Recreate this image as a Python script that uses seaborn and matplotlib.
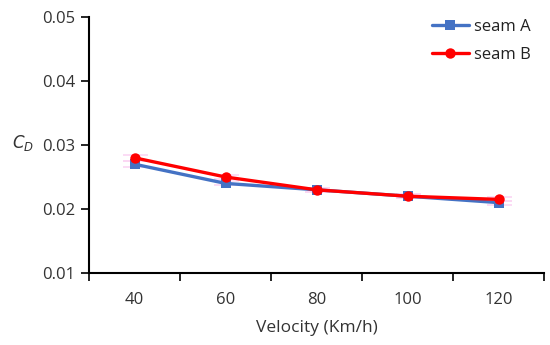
import numpy as np
import pandas as pd
import matplotlib
matplotlib.use("Agg")
import matplotlib.pyplot as plt
import seaborn as sns

# ------------------------------------------------------------
# DATA
# ------------------------------------------------------------
velocity = [40, 60, 80, 100, 120]
seam_a = [0.027, 0.024, 0.023, 0.022, 0.021]
seam_b = [0.028, 0.025, 0.023, 0.022, 0.0215]
err_a = [0.0005, 0.0003, 0.0003, 0.0003, 0.0003]
err_b = [0.0005, 0.0003, 0.0003, 0.0003, 0.0003]

df = pd.DataFrame({
    'pos': list(range(len(velocity))) * 2,
    'Velocity': velocity * 2,
    'CD': seam_a + seam_b,
    'err': err_a + err_b,
    'series': ['seam A'] * len(velocity) + ['seam B'] * len(velocity),
})

sns.set_style('white')
plt.rcParams['font.family'] = ['Open Sans', 'DejaVu Sans']

fig = plt.figure(figsize=(5.5, 3.45), dpi=100)
ax = fig.add_axes([89 / 550, 1 - 273 / 345, (544 - 89) / 550, (273 - 17) / 345])

colors = {'seam A': '#4472C4', 'seam B': '#FF0000'}
mfc = {'seam A': '#0070C0', 'seam B': '#FF0000'}
markers = {'seam A': 's', 'seam B': 'o'}

# faint error bars behind the lines
for name, sub in df.groupby('series'):
    ax.errorbar(sub['pos'], sub['CD'], yerr=sub['err'], fmt='none',
                ecolor='#fbd6f3', elinewidth=1.2, capsize=9, capthick=1.2, zorder=1)

sns.lineplot(data=df, x='pos', y='CD', hue='series', style='series',
             palette=colors, markers=markers, dashes=False,
             linewidth=2.4, markersize=7.5, markeredgewidth=0, ax=ax, zorder=3)
for line, name in zip(ax.lines, ['seam A', 'seam B']):
    line.set_markerfacecolor(mfc[name])
ax.lines[1].set_alpha(0.85)

ax.set_xlim(-0.5, len(velocity) - 0.5)
ax.set_ylim(0.01, 0.05)
ax.set_yticks([0.01, 0.02, 0.03, 0.04, 0.05])
ax.set_yticklabels([f'{v:.2f}' for v in [0.01, 0.02, 0.03, 0.04, 0.05]])

# category axis: ticks between categories, labels at centres
ax.set_xticks(np.arange(-0.5, len(velocity), 1.0))
ax.set_xticklabels([])
ax.set_xticks(range(len(velocity)), minor=True)
ax.set_xticklabels([str(v) for v in velocity], minor=True)
ax.tick_params(axis='x', which='major', direction='out', length=6, width=1.2, color='black', bottom=True)
ax.tick_params(axis='x', which='minor', length=0, labelsize=12, pad=14, colors='#333333')
ax.tick_params(axis='y', direction='out', length=6, width=1.2, color='black', left=True,
               labelsize=12, labelcolor='#333333', pad=4)

for s in ['top', 'right']:
    ax.spines[s].set_visible(False)
for s in ['left', 'bottom']:
    ax.spines[s].set_color('black')
    ax.spines[s].set_linewidth(1.5)

ax.set_xlabel('Velocity (Km/h)', fontsize=12.5, color='#333333', labelpad=8)
ax.set_ylabel('$C_D$', fontsize=12, color='#333333', rotation=0)
ax.yaxis.set_label_coords(-0.145, 0.47)

leg = ax.legend(loc='upper right', frameon=False, fontsize=12, handlelength=2.2,
                handletextpad=0.3, borderaxespad=0.0, labelspacing=0.75,
                bbox_to_anchor=(0.985, 1.02))
for t in leg.get_texts():
    t.set_color('#222222')

fig.savefig('out.png', dpi=100)
